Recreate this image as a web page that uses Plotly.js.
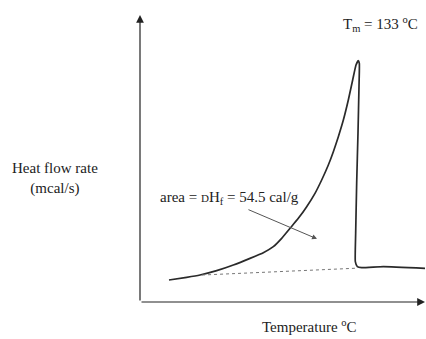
<!DOCTYPE html>
<html><head><meta charset="utf-8">
<script src="https://cdn.plot.ly/plotly-3.0.1.min.js"></script>
<style>html,body{margin:0;padding:0;background:#fff}#c{width:426px;height:339px}</style>
</head><body><div id="c"></div>
<script>
// DSC melting endotherm (arbitrary units)
var tempX = [10.14, 16.32, 20.98, 26.81, 32.63, 38.46, 43.12, 46.62, 49.53, 52.45, 55.36, 58.28, 61.19, 63.52, 65.85, 67.60, 69.35, 71.10, 72.84, 74.36, 75.52, 76.34, 76.69, 76.57, 76.22, 75.76, 75.41, 75.29, 75.99, 77.50, 85.08, 99.65];
var heatY = [7.67, 8.59, 9.41, 10.92, 12.89, 15.21, 17.19, 19.28, 22.18, 25.67, 29.15, 33.22, 37.86, 42.51, 47.74, 52.38, 57.61, 63.41, 70.38, 77.35, 82.58, 84.09, 83.16, 75.03, 58.77, 41.35, 23.93, 14.05, 12.31, 11.96, 12.31, 11.73];
var baseX = [21.7, 76.2];
var baseY = [9.4, 11.8];
var arrowTail = [37.4, 32.4];
var arrowHead = [61.9, 22.0];
var areaLabelPos = [31.3, 36.2];

var serif = 'Liberation Serif, Times New Roman, serif';
var tf = {family: serif, size: 15, color: '#222'};
var traces = [
  {x: tempX, y: heatY, mode: 'lines', line: {color: '#2a2a2a', width: 1.7, shape: 'spline', smoothing: 0.4}, hoverinfo: 'none'},
  {x: baseX, y: baseY, mode: 'lines', line: {color: '#777', width: 1, dash: '3px,3px'}, hoverinfo: 'none'}
];
var layout = {
  width: 426, height: 339,
  margin: {l: 140, r: 0, t: 15, b: 37},
  paper_bgcolor: '#fff', plot_bgcolor: '#fff',
  showlegend: false,
  xaxis: {range: [0, 100], showgrid: false, zeroline: false, showticklabels: false, ticks: '', showline: false},
  yaxis: {range: [0, 100], showgrid: false, zeroline: false, showticklabels: false, ticks: '', showline: false},
  annotations: [
    {xref: 'paper', yref: 'paper', axref: 'paper', ayref: 'paper', x: 0, y: 1, ax: 0, ay: 0, text: '', showarrow: true, arrowhead: 2, arrowsize: 1.3, arrowwidth: 1.2, arrowcolor: '#222', standoff: 0},
    {xref: 'paper', yref: 'paper', axref: 'paper', ayref: 'paper', x: 1, y: 0, ax: 0, ay: 0, text: '', showarrow: true, arrowhead: 2, arrowsize: 1.3, arrowwidth: 1.2, arrowcolor: '#222', standoff: 0},
    {xref: 'x', yref: 'y', axref: 'x', ayref: 'y', x: arrowHead[0], y: arrowHead[1], ax: arrowTail[0], ay: arrowTail[1], text: '', showarrow: true, arrowhead: 2, arrowsize: 1, arrowwidth: 1, arrowcolor: '#555', standoff: 0},
    {xref: 'x', yref: 'y', x: areaLabelPos[0], y: areaLabelPos[1], xanchor: 'center', yanchor: 'middle', showarrow: false, text: 'area = <span style="font-size:11px">D</span>H<sub>f</sub> = 54.5 cal/g', font: tf},
    {xref: 'paper', yref: 'paper', x: 0.84, y: 0.969, xanchor: 'center', yanchor: 'middle', showarrow: false, text: 'T<sub>m</sub> = 133 <sup>o</sup>C', font: tf},
    {xref: 'paper', yref: 'paper', x: -0.297, y: 0.43, xanchor: 'center', yanchor: 'middle', showarrow: false, align: 'center', text: 'Heat flow rate<br>(mcal/s)', font: tf},
    {xref: 'paper', yref: 'paper', x: 0.591, y: -0.085, xanchor: 'center', yanchor: 'middle', showarrow: false, text: 'Temperature <sup>o</sup>C', font: tf}
  ]
};
Plotly.newPlot('c', traces, layout, {displayModeBar: false, staticPlot: true});
</script></body></html>
